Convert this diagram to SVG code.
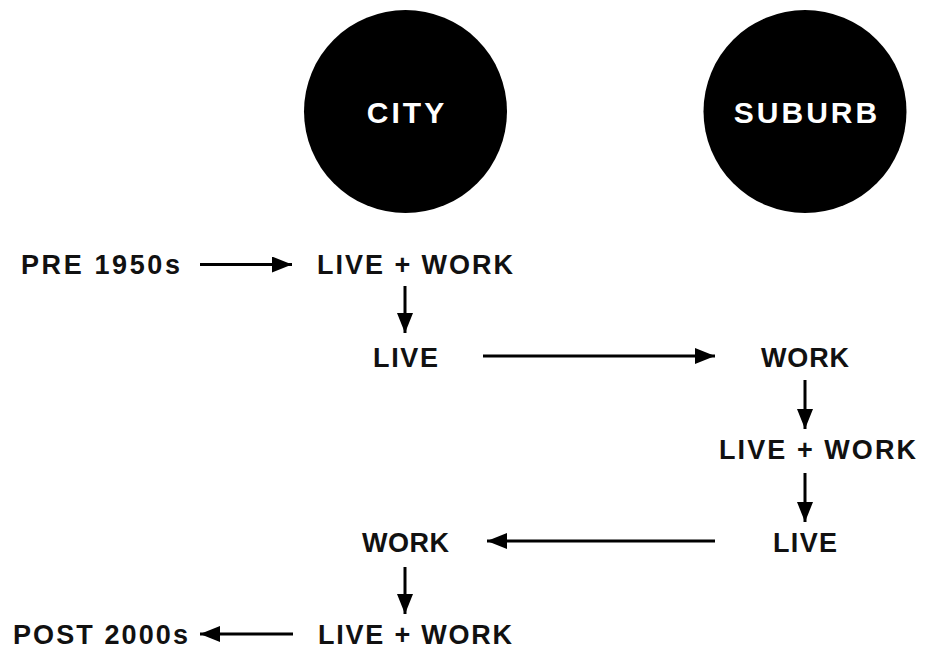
<svg xmlns="http://www.w3.org/2000/svg" width="927" height="652" viewBox="0 0 927 652">
  <style>
    .lbl { font-family: "Liberation Sans", Arial, sans-serif; font-weight: bold; font-size: 27px; fill: #111; }
    .hub { font-family: "Liberation Sans", Arial, sans-serif; font-weight: bold; font-size: 30px; fill: #fff; text-anchor: middle; letter-spacing: 3px; }
    .link { stroke: #000; stroke-width: 3; fill: none; marker-end: url(#head); }
  </style>
  <defs>
    <marker id="head" markerUnits="userSpaceOnUse" markerWidth="22" markerHeight="18" refX="20" refY="8" orient="auto">
      <path d="M0,0 L20,8 L0,16 Z" fill="#000"/>
    </marker>
  </defs>
  <rect width="927" height="652" fill="#fff"/>

  <!-- location headers -->
  <g id="city">
    <circle cx="405.5" cy="111.5" r="101.5" fill="#000"/>
    <text class="hub" x="407" y="123">CITY</text>
  </g>
  <g id="suburb">
    <circle cx="805" cy="111.5" r="101.5" fill="#000"/>
    <text class="hub" x="807" y="123">SUBURB</text>
  </g>

  <!-- timeline states -->
  <g id="pre1950s"><text class="lbl" x="21" y="274" textLength="159" lengthAdjust="spacing">PRE 1950s</text></g>
  <g id="city-live-work-1"><text class="lbl" x="317" y="274" textLength="196" lengthAdjust="spacing">LIVE + WORK</text></g>
  <g id="city-live"><text class="lbl" x="373" y="367" textLength="65" lengthAdjust="spacing">LIVE</text></g>
  <g id="suburb-work"><text class="lbl" x="761" y="367" textLength="88" lengthAdjust="spacing">WORK</text></g>
  <g id="suburb-live-work"><text class="lbl" x="719" y="459" textLength="197" lengthAdjust="spacing">LIVE + WORK</text></g>
  <g id="suburb-live"><text class="lbl" x="773" y="552" textLength="64" lengthAdjust="spacing">LIVE</text></g>
  <g id="city-work"><text class="lbl" x="362" y="552" textLength="87" lengthAdjust="spacing">WORK</text></g>
  <g id="city-live-work-2"><text class="lbl" x="318" y="644" textLength="194" lengthAdjust="spacing">LIVE + WORK</text></g>
  <g id="post2000s"><text class="lbl" x="13" y="644" textLength="175" lengthAdjust="spacing">POST 2000s</text></g>

  <!-- transitions -->
  <g id="connectors">
    <line class="link" x1="200" y1="264.5" x2="292" y2="264.5"/>
    <line class="link" x1="405" y1="286" x2="405" y2="333"/>
    <line class="link" x1="483" y1="356" x2="715" y2="356"/>
    <line class="link" x1="805" y1="380" x2="805" y2="429"/>
    <line class="link" x1="805" y1="473" x2="805" y2="522"/>
    <line class="link" x1="715" y1="541" x2="487" y2="541"/>
    <line class="link" x1="405" y1="567" x2="405" y2="614"/>
    <line class="link" x1="293" y1="634" x2="200" y2="634"/>
  </g>
</svg>
